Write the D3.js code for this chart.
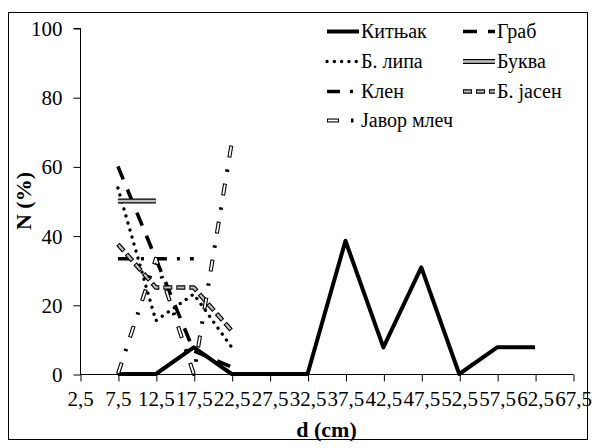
<!DOCTYPE html>
<html>
<head>
<meta charset="utf-8">
<script src="https://cdn.jsdelivr.net/npm/d3@7"></script>
<style>
  html, body { margin: 0; padding: 0; background: #fff; }
  svg { display: block; }
</style>
</head>
<body>
<svg id="chart" width="596" height="448"></svg>
<script>
// Diameter classes (cm)
const categories = ["2,5","7,5","12,5","17,5","22,5","27,5","32,5","37,5","42,5","47,5","52,5","57,5","62,5","67,5"];

// Share of trees per diameter class (%), by species
const kitnjak = [null, 0, 0, 7.7, 0, 0, 0, 38.5, 7.7, 30.8, 0, 7.7, 7.7, null];
const grab    = [null, 60, 33.3, 6.7, 2, null, null, null, null, null, null, null, null, null];
const lipa    = [null, 53.8, 15.4, 23.1, 7.7, null, null, null, null, null, null, null, null, null];
const bukva   = [null, 50, 50, null, null, null, null, null, null, null, null, null, null, null];
const klen    = [null, 33.3, 33.3, 33.3, null, null, null, null, null, null, null, null, null, null];
const jasen   = [null, 37.5, 25, 25, 12.5, null, null, null, null, null, null, null, null, null];
const javor   = [null, 0, 33.3, 0, 66.7, null, null, null, null, null, null, null, null, null];

const seriesNames = ["Китњак", "Граб", "Б. липа", "Буква", "Клен", "Б. јасен", "Јавор млеч"];
const yTicks = [0, 20, 40, 60, 80, 100];

const FONT = '"Liberation Serif", monospace';

// Stroke styles: each is a list of layered strokes (outline first, fill on top)
const styles = {
  "Китњак":    [{ color: "#000", width: 4 }],
  "Граб":      [{ color: "#000", width: 3.6, dash: "14,11" }],
  "Б. липа":   [{ color: "#000", width: 3.3, dash: "0.1,7.2", cap: "round" }],
  "Буква":     [{ color: "#000", width: 5 }, { color: "#c0c0c0", width: 2.6 }],
  "Клен":      [{ color: "#000", width: 3.6, dash: "13,10,3,10" }],
  "Б. јасен":  [{ color: "#000", width: 4.6, dash: "9,4" }, { color: "#c0c0c0", width: 2.2, dash: "7,6", offset: -1 }],
  "Јавор млеч":[{ color: "#000", width: 4, dash: "12,12,2.5,12" }, { color: "#fff", width: 1.8, dash: "10,28.5", offset: -1 }]
};

const seriesValues = [kitnjak, grab, lipa, bukva, klen, jasen, javor];

const svg = d3.select("#chart");

// Outer frame
svg.append("rect")
  .attr("x", 8.5).attr("y", 12.5)
  .attr("width", 579).attr("height", 427)
  .attr("fill", "none").attr("stroke", "#000").attr("stroke-width", 1);

const x = d3.scalePoint().domain(categories).range([80, 573]);
const y = d3.scaleLinear().domain([0, 100]).range([374, 28]);

// Y axis
const yAxis = svg.append("g")
  .attr("transform", "translate(80.5,0)")
  .call(d3.axisLeft(y).tickValues(yTicks).tickSize(7).tickPadding(11).tickFormat(d3.format("d")));
yAxis.select(".domain").attr("d", `M-7,${y(100) + 0.5}H0V${y(0) + 0.5}`);
yAxis.selectAll(".tick line").attr("transform", "translate(0,0.5)");
yAxis.selectAll("text")
  .attr("dy", "0.36em").attr("fill", "#000")
  .style("font-family", FONT).style("font-size", "21px");

// X axis
const xAxis = svg.append("g")
  .attr("transform", `translate(0,${y(0) + 0.5})`)
  .call(d3.axisBottom(x).tickSize(7).tickPadding(10));
xAxis.select(".domain").attr("d", `M${x(categories[0])},0H${x(categories[categories.length - 1]) + 0.5}`);
xAxis.selectAll(".tick line").attr("transform", "translate(0.5,0)");
xAxis.selectAll("text")
  .attr("dy", "0.71em").attr("fill", "#000")
  .style("font-family", FONT).style("font-size", "21px");
svg.selectAll(".domain, .tick line").attr("stroke", "#000");

// Axis titles
svg.append("text")
  .attr("transform", `translate(31,${(y(0) + y(100)) / 2}) rotate(-90)`)
  .attr("text-anchor", "middle")
  .style("font-family", FONT).style("font-size", "22px").style("font-weight", "bold")
  .text("N (%)");

svg.append("text")
  .attr("x", (x.range()[0] + x.range()[1]) / 2)
  .attr("y", 437)
  .attr("text-anchor", "middle")
  .style("font-family", FONT).style("font-size", "22px").style("font-weight", "bold")
  .text("d (cm)");

// Series lines
const line = d3.line()
  .defined(d => d.v != null)
  .x(d => x(d.c))
  .y(d => y(d.v));

function strokeLayers(sel, name) {
  styles[name].forEach(s => {
    sel.append("path")
      .attr("fill", "none")
      .attr("stroke", s.color)
      .attr("stroke-width", s.width)
      .attr("stroke-linejoin", "round")
      .attr("stroke-linecap", s.cap || "butt")
      .attr("stroke-dasharray", s.dash || null)
      .attr("stroke-dashoffset", s.offset || 0)
      .attr("class", "layer");
  });
}

const plot = svg.append("g");
seriesNames.forEach((name, i) => {
  const data = categories.map((c, j) => ({ c, v: seriesValues[i][j] }));
  const g = plot.append("g");
  strokeLayers(g, name);
  g.selectAll("path.layer").attr("d", line(data));
});

// Legend: two columns, filled row by row
const legendCols = [327, 463];
const legendRows = [31.5, 61.5, 91.5, 120.5];
const legend = svg.append("g");
seriesNames.forEach((name, i) => {
  const lx = legendCols[i % 2];
  const ly = legendRows[Math.floor(i / 2)];
  const g = legend.append("g");
  strokeLayers(g, name);
  g.selectAll("path.layer").attr("d", `M${lx},${ly}H${lx + 32}`);
  g.append("text")
    .attr("x", lx + 34)
    .attr("y", ly)
    .attr("dy", "0.33em")
    .attr("fill", "#000")
    .style("font-family", FONT).style("font-size", "20px")
    .text(name);
});
</script>
</body>
</html>
